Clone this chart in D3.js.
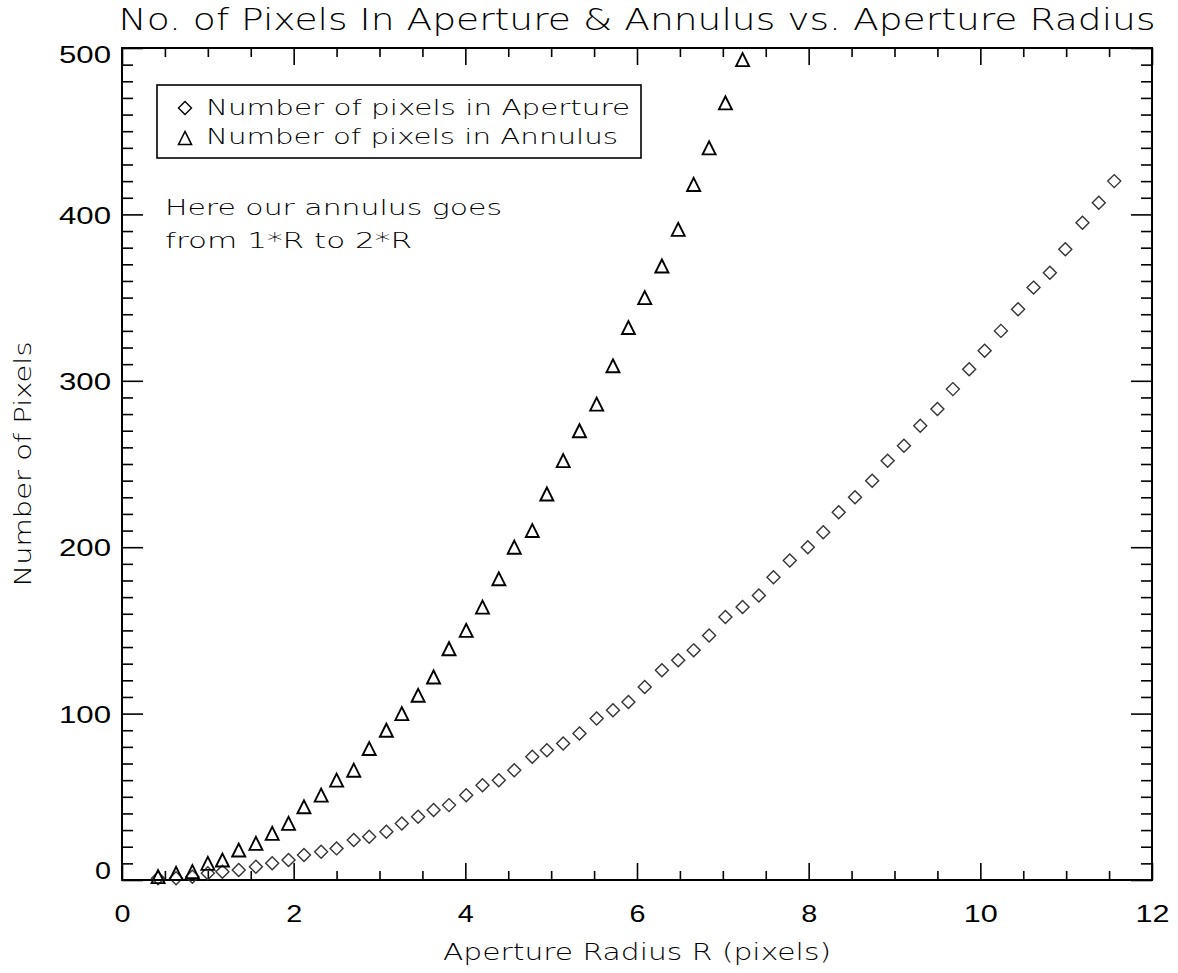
<!DOCTYPE html>
<html>
<head>
<meta charset="utf-8">
<script src="https://cdn.jsdelivr.net/npm/d3@7"></script>
<style>
  body { margin: 0; background: #ffffff; }
  svg { display: block; }
</style>
</head>
<body>
<script>
// ---------- data ----------
const radius = [0.42, 0.63, 0.82, 1.00, 1.17, 1.36, 1.56, 1.75, 1.94, 2.12,
                2.32, 2.50, 2.70, 2.88, 3.08, 3.26, 3.45, 3.63, 3.81, 4.01,
                4.20, 4.39, 4.57, 4.78, 4.95, 5.14, 5.33, 5.53, 5.72, 5.90,
                6.09, 6.29, 6.48, 6.66, 6.84, 7.03, 7.23, 7.42, 7.59, 7.78,
                7.99, 8.17, 8.35, 8.54, 8.74, 8.92, 9.11, 9.30, 9.50, 9.68,
                9.87, 10.05, 10.24, 10.44, 10.62, 10.81, 10.99, 11.19, 11.38, 11.56];
const aperturePixels = [1, 1, 2, 4, 5, 6, 8, 10, 12, 15,
                        17, 19, 24, 26, 29, 34, 38, 42, 45, 51,
                        57, 60, 66, 74, 78, 82, 88, 97, 102, 107,
                        116, 126, 132, 138, 147, 158, 164, 171, 182, 192,
                        200, 209, 221, 230, 240, 252, 261, 273, 283, 295,
                        307, 318, 330, 343, 356, 365, 379, 395, 407, 420];
const annulusPixels = [2, 4, 5, 10, 12, 18, 22, 28, 34, 44,
                       51, 60, 66, 79, 90, 100, 111, 122, 139, 150,
                       164, 181, 200, 210, 232, 252, 270, 286, 309, 332,
                       350, 369, 391, 418, 440, 467, 493];
const xTickLabels = [0, 2, 4, 6, 8, 10, 12];
const yTickLabels = [0, 100, 200, 300, 400, 500];
const titleText = "No. of Pixels In Aperture & Annulus vs. Aperture Radius";
const xTitle = "Aperture Radius R (pixels)";
const yTitle = "Number of Pixels";
const legendLabels = ["Number of pixels in Aperture", "Number of pixels in Annulus"];
const noteLines = ["Here our annulus goes", "from 1*R to 2*R"];

// ---------- layout ----------
const W = 1178, H = 973;
const L = 122, R = 1152, T = 48, B = 880;
const FONT = "'DejaVu Sans', 'Liberation Sans', sans-serif";

const svg = d3.select("body").append("svg").attr("width", W).attr("height", H)
  .style("font-family", FONT);

const x = d3.scaleLinear().domain([0, 12]).range([L, R]);
const y = d3.scaleLinear().domain([0, 500]).range([B, T]);

const xMinor = x.ticks(24).filter(v => !xTickLabels.includes(v));
const yMinor = y.ticks(50).filter(v => !yTickLabels.includes(v));

function styleAxis(g) {
  g.select(".domain").remove();
  g.selectAll(".tick line").attr("stroke", "#000").attr("stroke-width", 1.6);
}

// bottom axis
svg.append("g").attr("transform", `translate(0,${B})`)
  .call(d3.axisBottom(x).tickValues(xTickLabels).tickSize(-17).tickPadding(25).tickFormat(d3.format("d")))
  .call(styleAxis)
  .call(g => g.selectAll("text").attr("fill", "#000").style("font-size", "24px").style("font-weight", 200)
      .attr("textLength", d => String(d).length * 18 - 2).attr("lengthAdjust", "spacingAndGlyphs"));
svg.append("g").attr("transform", `translate(0,${B})`)
  .call(d3.axisBottom(x).tickValues(xMinor).tickSize(-9).tickFormat(""))
  .call(styleAxis);
// top axis
svg.append("g").attr("transform", `translate(0,${T})`)
  .call(d3.axisTop(x).tickValues(xTickLabels).tickSize(-17).tickFormat(""))
  .call(styleAxis);
svg.append("g").attr("transform", `translate(0,${T})`)
  .call(d3.axisTop(x).tickValues(xMinor).tickSize(-9).tickFormat(""))
  .call(styleAxis);
// left axis
svg.append("g").attr("transform", `translate(${L},0)`)
  .call(d3.axisLeft(y).tickValues(yTickLabels).tickSize(-21).tickPadding(11).tickFormat(d3.format("d")))
  .call(styleAxis)
  .call(g => g.selectAll("text").attr("fill", "#000").style("font-size", "24px").style("font-weight", 200)
      .attr("textLength", d => String(d).length * 18 - 2).attr("lengthAdjust", "spacingAndGlyphs")
      .attr("dy", d => d === 500 ? "0.62em" : (d === 0 ? "-0.05em" : "0.36em")));
svg.append("g").attr("transform", `translate(${L},0)`)
  .call(d3.axisLeft(y).tickValues(yMinor).tickSize(-11).tickFormat(""))
  .call(styleAxis);
// right axis
svg.append("g").attr("transform", `translate(${R},0)`)
  .call(d3.axisRight(y).tickValues(yTickLabels).tickSize(-21).tickFormat(""))
  .call(styleAxis);
svg.append("g").attr("transform", `translate(${R},0)`)
  .call(d3.axisRight(y).tickValues(yMinor).tickSize(-11).tickFormat(""))
  .call(styleAxis);

// frame
svg.append("rect").attr("x", L).attr("y", T).attr("width", R - L).attr("height", B - T)
  .attr("fill", "none").attr("stroke", "#000").attr("stroke-width", 2);

// ---------- symbols ----------
const diamondType = { draw(ctx, size) { const r = Math.sqrt(size) / 2;
  ctx.moveTo(0, -r); ctx.lineTo(r, 0); ctx.lineTo(0, r); ctx.lineTo(-r, 0); ctx.closePath(); } };
const triangleType = { draw(ctx, size) { const r = Math.sqrt(size) / 2;
  ctx.moveTo(-r, r); ctx.lineTo(0, -r); ctx.lineTo(r, r); ctx.closePath(); } };
const diamondPath = d3.symbol().type(diamondType).size(13 * 13)();
const trianglePath = d3.symbol().type(triangleType).size(13 * 13)();

svg.append("g").selectAll("path").data(aperturePixels).join("path")
  .attr("d", diamondPath)
  .attr("transform", (d, i) => `translate(${x(radius[i])},${y(d)})`)
  .attr("fill", "none").attr("stroke", "#333").attr("stroke-width", 1.4);

svg.append("g").selectAll("path").data(annulusPixels).join("path")
  .attr("d", trianglePath)
  .attr("transform", (d, i) => `translate(${x(radius[i])},${y(d)})`)
  .attr("fill", "none").attr("stroke", "#000").attr("stroke-width", 1.9)
  .attr("stroke-linejoin", "miter");

// ---------- legend ----------
const lg = svg.append("g");
lg.append("rect").attr("x", 157).attr("y", 85).attr("width", 484).attr("height", 73)
  .attr("fill", "none").attr("stroke", "#000").attr("stroke-width", 1.6);
lg.append("path").attr("d", diamondPath).attr("transform", "translate(185,108)")
  .attr("fill", "none").attr("stroke", "#000").attr("stroke-width", 1.4);
lg.append("path").attr("d", trianglePath).attr("transform", "translate(185,138)")
  .attr("fill", "none").attr("stroke", "#000").attr("stroke-width", 1.6);
const legendWidths = [424, 412];
lg.selectAll("text.leg").data(legendLabels).join("text").attr("class", "leg")
  .attr("x", 206).attr("y", (d, i) => [115, 144][i])
  .attr("textLength", (d, i) => legendWidths[i]).attr("lengthAdjust", "spacingAndGlyphs")
  .style("font-size", "22px").style("font-weight", 200).attr("fill", "#000")
  .text(d => d);

// ---------- annotation ----------
const noteWidths = [337, 247];
svg.selectAll("text.note").data(noteLines).join("text").attr("class", "note")
  .attr("x", 165).attr("y", (d, i) => [215, 248][i])
  .attr("textLength", (d, i) => noteWidths[i]).attr("lengthAdjust", "spacingAndGlyphs")
  .style("font-size", "21px").style("font-weight", 200).attr("fill", "#000")
  .text(d => d);

// ---------- titles ----------
svg.append("text").attr("x", (L + R) / 2).attr("y", 30).attr("text-anchor", "middle")
  .attr("textLength", 1037).attr("lengthAdjust", "spacingAndGlyphs")
  .style("font-size", "31px").style("font-weight", 200).attr("fill", "#000")
  .text(titleText);
svg.append("text").attr("x", (L + R) / 2).attr("y", 960).attr("text-anchor", "middle")
  .attr("textLength", 388).attr("lengthAdjust", "spacingAndGlyphs")
  .style("font-size", "23px").style("font-weight", 200).attr("fill", "#000")
  .text(xTitle);
svg.append("text").attr("transform", `translate(31,${(T + B) / 2}) rotate(-90)`)
  .attr("text-anchor", "middle")
  .attr("textLength", 245).attr("lengthAdjust", "spacingAndGlyphs")
  .style("font-size", "23px").style("font-weight", 200).attr("fill", "#000")
  .text(yTitle);
</script>
</body>
</html>
